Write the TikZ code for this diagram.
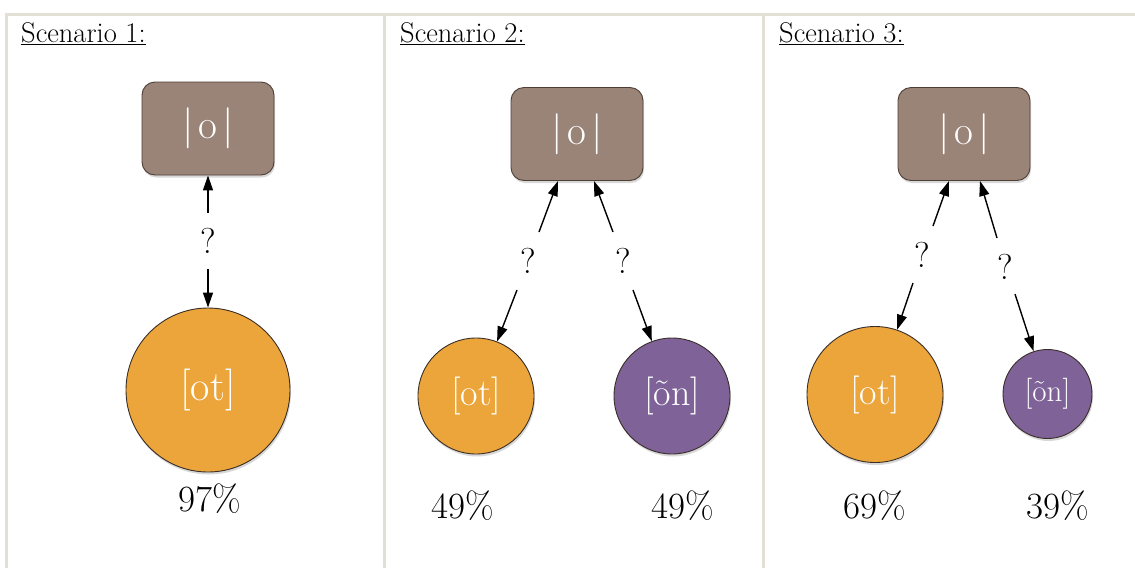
\documentclass[tikz,border=0pt]{standalone}
\usepackage{fontspec}
\usetikzlibrary{arrows.meta,shadows}

\definecolor{gridline}{HTML}{E2DFD5}
\definecolor{boxfill}{HTML}{9A8377}
\definecolor{boxedge}{HTML}{4E3F36}
\definecolor{otfill}{HTML}{EBA53A}
\definecolor{onfill}{HTML}{7E6298}
\definecolor{shapeedge}{HTML}{3A2E28}

\newcommand{\fs}[1]{\fontsize{#1}{#1}\selectfont}

\tikzset{
  grid/.style={draw=gridline, line width=3pt},
  title/.style={anchor=base west, inner sep=0pt, font=\fs{28.5}},
  phon/.style={draw=boxedge, line width=0.9pt, fill=boxfill, rounded corners=13pt,
    minimum width=132pt, minimum height=93pt, text=white, font=\fs{41},
    drop shadow={opacity=0.3, shadow xshift=1pt, shadow yshift=-2.5pt}},
  real/.style={circle, draw=shapeedge, line width=0.9pt, text=white, inner sep=0pt,
    drop shadow={opacity=0.3, shadow xshift=1pt, shadow yshift=-2.5pt}},
  ot/.style={real, fill=otfill},
  on/.style={real, fill=onfill},
  qmark/.style={inner sep=0pt, font=\fs{36}},
  pct/.style={anchor=base, inner sep=0pt, font=\fs{37}},
  arr/.style={line width=1.4pt, -{Triangle[length=15pt,width=10pt]}},
}

\begin{document}
\begin{tikzpicture}[x=1pt, y=-1pt]
\useasboundingbox (0,0) rectangle (1135,568);
\fill[white] (0,0) rectangle (1135,568);

% table rules
\draw[grid] (5.2,14.7) -- (1135,14.7);
\draw[grid] (6.7,13.2) -- (6.7,568);
\draw[grid] (384.7,13.2) -- (384.7,568);
\draw[grid] (763.7,13.2) -- (763.7,568);

% column titles
\node[title] (t1) at (21,42) {\underline{Scenario 1:}};
\node[title] (t2) at (400,42) {\underline{Scenario 2:}};
\node[title] (t3) at (779,42) {\underline{Scenario 3:}};

% ---- scenario 1 ----
\node[phon] (p1) at (208,128.5) {|\hspace{5pt}o\hspace{5pt}|};
\node[ot, minimum size=164pt, font=\fs{42}] (c1) at (208,390) {[ot]};
\node[qmark] (q1) at (208,241) {?};
\coordinate (q1u) at (208,213);
\coordinate (q1d) at (208,269);
\draw[arr] (q1u) -- (p1.south);
\draw[arr] (q1d) -- (c1.north);
\node[pct] (n1) at (210,511) {97\%};

% ---- scenario 2 ----
\node[phon] (p2) at (577,134) {|\hspace{5pt}o\hspace{5pt}|};
\node[ot, minimum size=116pt, font=\fs{38}] (c2a) at (476,396) {[ot]};
\node[on, minimum size=116pt, font=\fs{38}] (c2b) at (672,396) {[õn]};
\node[qmark] (q2a) at (528,261) {?};
\node[qmark] (q2b) at (623,261) {?};
\coordinate (q2a1) at (539,232);
\coordinate (q2a2) at (517,290);
\coordinate (q2b1) at (613,232);
\coordinate (q2b2) at (633,290);
\coordinate (h2a) at (558,181);
\coordinate (h2b) at (594,181);
\draw[arr] (q2a1) -- (h2a);
\draw[arr] (q2b1) -- (h2b);
\draw[arr] (q2a2) -- (c2a);
\draw[arr] (q2b2) -- (c2b);
\node[pct] (n2a) at (463,518) {49\%};
\node[pct] (n2b) at (683,518) {49\%};

% ---- scenario 3 ----
\node[phon] (p3) at (964,134) {|\hspace{5pt}o\hspace{5pt}|};
\node[ot, minimum size=136pt, font=\fs{38}] (c3a) at (875,394.5) {[ot]};
\node[on, minimum size=89pt, font=\fs{31}] (c3b) at (1047.5,394) {[õn]};
\node[qmark] (q3a) at (922,255) {?};
\node[qmark] (q3b) at (1005,267) {?};
\coordinate (q3a1) at (933,226);
\coordinate (q3a2) at (913,283);
\coordinate (q3b1) at (997,238);
\coordinate (q3b2) at (1015,294);
\coordinate (h3a) at (949,181);
\coordinate (h3b) at (980,181);
\draw[arr] (q3a1) -- (h3a);
\draw[arr] (q3b1) -- (h3b);
\draw[arr] (q3a2) -- (c3a);
\draw[arr] (q3b2) -- (c3b);
\node[pct] (n3a) at (875,518) {69\%};
\node[pct] (n3b) at (1058,518) {39\%};
\end{tikzpicture}
\end{document}
